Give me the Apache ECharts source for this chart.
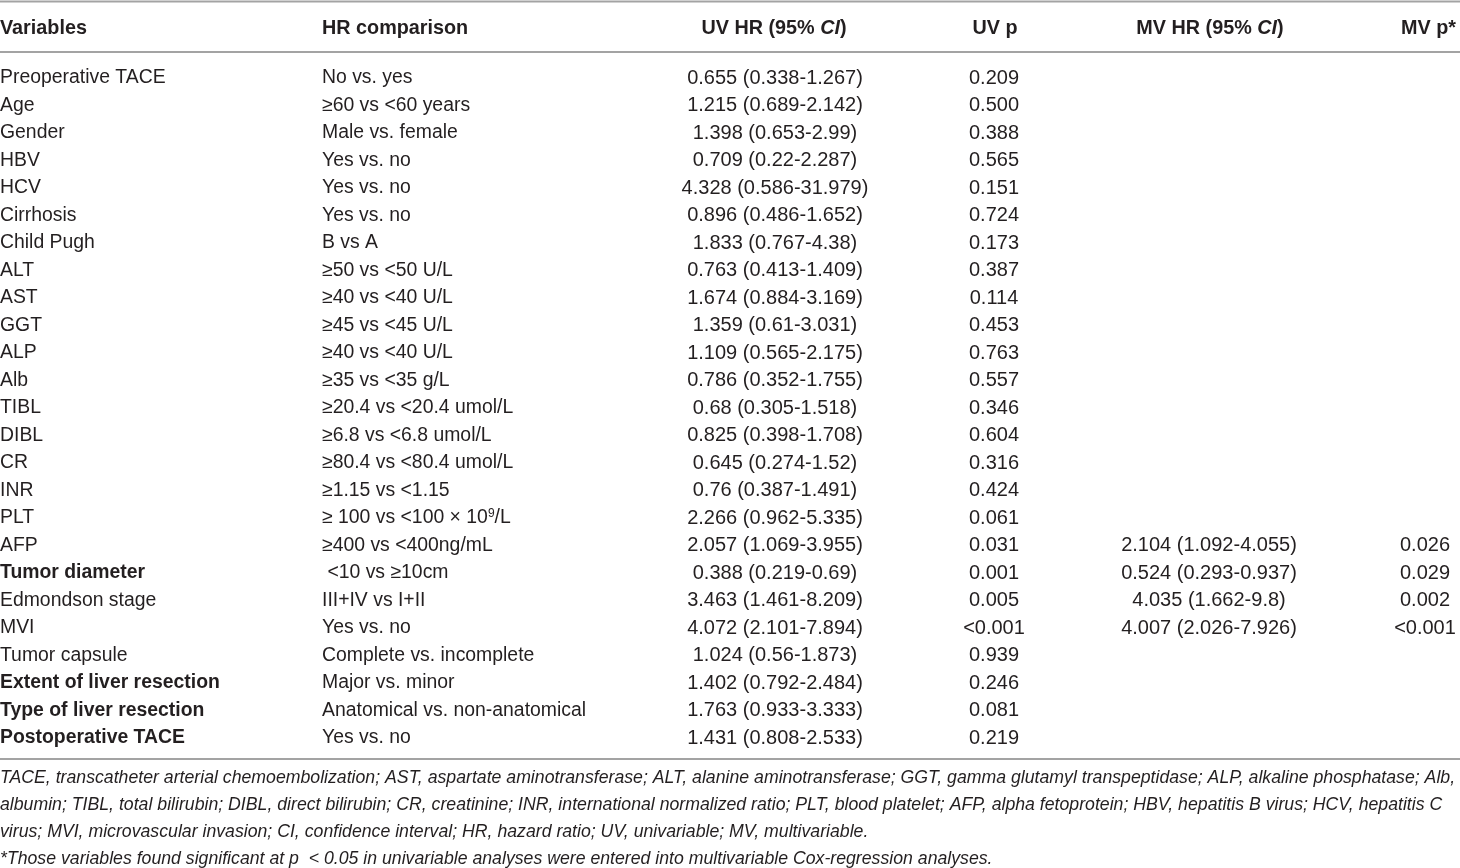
<!DOCTYPE html>
<html>
<head>
<meta charset="utf-8">
<script src="https://cdn.jsdelivr.net/npm/echarts@6/dist/echarts.min.js"></script>
<style>
  html, body { margin: 0; padding: 0; background: #fff; }
  #table_chart { width: 1460px; height: 868px; }
</style>
</head>
<body>
<div id="table_chart"></div>
<script>
// table data
var variables = ["Preoperative TACE", "Age", "Gender", "HBV", "HCV", "Cirrhosis", "Child Pugh", "ALT", "AST", "GGT", "ALP", "Alb",
                 "TIBL", "DIBL", "CR", "INR", "PLT", "AFP", "Tumor diameter", "Edmondson stage", "MVI", "Tumor capsule",
                 "Extent of liver resection", "Type of liver resection", "Postoperative TACE"];
var comparisons = ["No vs. yes", "≥60 vs <60 years", "Male vs. female", "Yes vs. no", "Yes vs. no", "Yes vs. no", "B vs A",
                   "≥50 vs <50 U/L", "≥40 vs <40 U/L", "≥45 vs <45 U/L", "≥40 vs <40 U/L", "≥35 vs <35 g/L",
                   "≥20.4 vs <20.4 umol/L", "≥6.8 vs <6.8 umol/L", "≥80.4 vs <80.4 umol/L", "≥1.15 vs <1.15",
                   "{n|≥ 100 vs <100 × 10}{sup|9}{n|/L}", "≥400 vs <400ng/mL", " <10 vs ≥10cm", "III+IV vs I+II", "Yes vs. no",
                   "Complete vs. incomplete", "Major vs. minor", "Anatomical vs. non-anatomical", "Yes vs. no"];
var uvHR = ["0.655 (0.338-1.267)", "1.215 (0.689-2.142)", "1.398 (0.653-2.99)", "0.709 (0.22-2.287)", "4.328 (0.586-31.979)",
            "0.896 (0.486-1.652)", "1.833 (0.767-4.38)", "0.763 (0.413-1.409)", "1.674 (0.884-3.169)", "1.359 (0.61-3.031)",
            "1.109 (0.565-2.175)", "0.786 (0.352-1.755)", "0.68 (0.305-1.518)", "0.825 (0.398-1.708)", "0.645 (0.274-1.52)",
            "0.76 (0.387-1.491)", "2.266 (0.962-5.335)", "2.057 (1.069-3.955)", "0.388 (0.219-0.69)", "3.463 (1.461-8.209)",
            "4.072 (2.101-7.894)", "1.024 (0.56-1.873)", "1.402 (0.792-2.484)", "1.763 (0.933-3.333)", "1.431 (0.808-2.533)"];
var uvP = ["0.209", "0.500", "0.388", "0.565", "0.151", "0.724", "0.173", "0.387", "0.114", "0.453", "0.763", "0.557",
           "0.346", "0.604", "0.316", "0.424", "0.061", "0.031", "0.001", "0.005", "<0.001", "0.939", "0.246", "0.081", "0.219"];
var mvHR = ["", "", "", "", "", "", "", "", "", "", "", "", "", "", "", "", "",
            "2.104 (1.092-4.055)", "0.524 (0.293-0.937)", "4.035 (1.662-9.8)", "4.007 (2.026-7.926)", "", "", "", ""];
var mvP = ["", "", "", "", "", "", "", "", "", "", "", "", "", "", "", "", "",
           "0.026", "0.029", "0.002", "<0.001", "", "", "", ""];
var boldRows = ["Tumor diameter", "Extent of liver resection", "Type of liver resection", "Postoperative TACE"];
var headers = ["Variables", "HR comparison", "UV HR (95% {i|CI})", "UV p", "MV HR (95% {i|CI})", "MV p*"];
var footnotes = [
  "TACE, transcatheter arterial chemoembolization; AST, aspartate aminotransferase; ALT, alanine aminotransferase; GGT, gamma glutamyl transpeptidase; ALP, alkaline phosphatase; Alb,",
  "albumin; TIBL, total bilirubin; DIBL, direct bilirubin; CR, creatinine; INR, international normalized ratio; PLT, blood platelet; AFP, alpha fetoprotein; HBV, hepatitis B virus; HCV, hepatitis C",
  "virus; MVI, microvascular invasion; CI, confidence interval; HR, hazard ratio; UV, univariable; MV, multivariable.",
  "*Those variables found significant at p  < 0.05 in univariable analyses were entered into multivariable Cox-regression analyses."
];

// column layout (x on a 0..1460 axis)
var colX = [0, 322, 775, 994, 1209, 1425];
var colAlign = ["left", "left", "center", "center", "center", "center"];
var colSize = [19.4, 19.4, 20, 20, 20, 20];
var headX = [0, 322, 774, 995, 1210, 1456];
var headAlign = ["left", "left", "center", "center", "center", "right"];

var FONT = "'Liberation Sans', Arial, sans-serif";
var INK = "#231f20";
var RULE = "#a3a3a3";

// cells: [col, row, text]
var cells = [];
var columns = [variables, comparisons, uvHR, uvP, mvHR, mvP];
for (var r = 0; r < variables.length; r++) {
    for (var c = 0; c < columns.length; c++) {
        if (columns[c][r] !== "") cells.push([c, r, columns[c][r]]);
    }
}
var headCells = [];
for (var h = 0; h < headers.length; h++) headCells.push([h, 0, headers[h]]);

var richStyles = {
    n: { fontSize: 19.4, fontFamily: FONT, fill: INK },
    sup: { fontSize: 12, fontFamily: FONT, fill: INK, padding: [0, 0, 9, 0] },
    i: { fontSize: 19.8, fontFamily: FONT, fontWeight: 'bold', fontStyle: 'italic', fill: INK }
};

var tableChart = echarts.init(document.getElementById('table_chart'));
var option = {
    backgroundColor: '#fff',
    animation: false,
    grid: [
        { left: 0, right: 0, top: 1.5, height: 54 },
        { left: 0, right: 0, top: 64.25, height: 687.5 }
    ],
    xAxis: [
        { type: 'value', gridIndex: 0, min: 0, max: 1460, show: false },
        { type: 'value', gridIndex: 1, min: 0, max: 1460, show: false }
    ],
    yAxis: [
        { type: 'category', gridIndex: 0, data: ['header'], show: false },
        { type: 'category', gridIndex: 1, data: variables, inverse: true, show: false }
    ],
    series: [
        {
            type: 'custom',
            xAxisIndex: 0,
            yAxisIndex: 0,
            data: headCells,
            renderItem: function (params, api) {
                var d = headCells[params.dataIndex];
                var pt = api.coord([headX[d[0]], d[1]]);
                return {
                    type: 'text',
                    x: pt[0],
                    y: pt[1],
                    style: {
                        text: d[2],
                        align: headAlign[d[0]],
                        verticalAlign: 'middle',
                        fontSize: 19.8,
                        fontFamily: FONT,
                        fontWeight: 'bold',
                        fill: INK,
                        rich: richStyles
                    }
                };
            }
        },
        {
            type: 'custom',
            xAxisIndex: 1,
            yAxisIndex: 1,
            data: cells,
            renderItem: function (params, api) {
                var d = cells[params.dataIndex];
                var pt = api.coord([colX[d[0]], d[1]]);
                var bold = d[0] === 0 && boldRows.indexOf(d[2]) >= 0;
                return {
                    type: 'text',
                    x: pt[0],
                    y: pt[1],
                    style: {
                        text: d[2],
                        align: colAlign[d[0]],
                        verticalAlign: 'middle',
                        fontSize: colSize[d[0]],
                        fontFamily: FONT,
                        fontWeight: bold ? 'bold' : 'normal',
                        fill: INK,
                        rich: richStyles
                    }
                };
            }
        }
    ],
    graphic: [
        { type: 'line', shape: { x1: 0, y1: 1.5, x2: 1460, y2: 1.5 }, style: { stroke: RULE, lineWidth: 2 } },
        { type: 'line', shape: { x1: 0, y1: 52, x2: 1460, y2: 52 }, style: { stroke: RULE, lineWidth: 2 } },
        { type: 'line', shape: { x1: 0, y1: 759, x2: 1460, y2: 759 }, style: { stroke: RULE, lineWidth: 2 } },
        {
            type: 'text',
            left: 0,
            top: 765,
            style: {
                text: footnotes.join('\n'),
                fontSize: 17.7,
                lineHeight: 26.8,
                fontFamily: FONT,
                fontStyle: 'italic',
                fill: INK
            }
        }
    ]
};
tableChart.setOption(option);
</script>
</body>
</html>
